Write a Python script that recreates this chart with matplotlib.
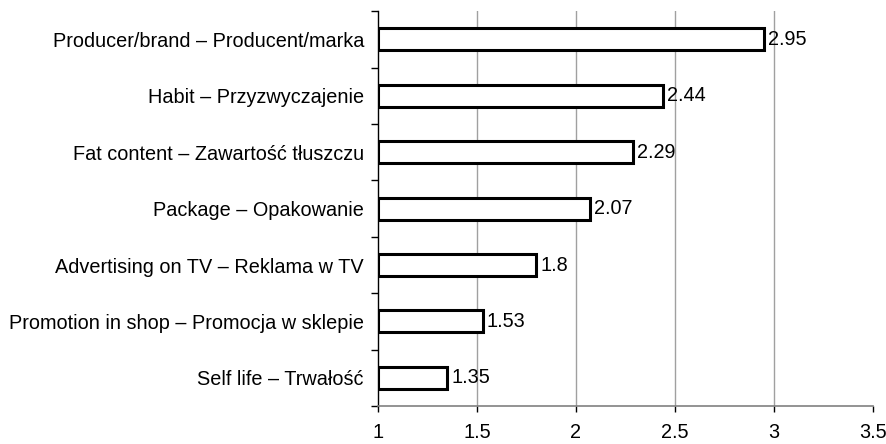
import numpy as np
import matplotlib.pyplot as plt

categories = [
    "Producer/brand – Producent/marka",
    "Habit – Przyzwyczajenie",
    "Fat content – Zawartość tłuszczu",
    "Package – Opakowanie",
    "Advertising on TV – Reklama w TV",
    "Promotion in shop – Promocja w sklepie",
    "Self life – Trwałość",
]
values = [2.95, 2.44, 2.29, 2.07, 1.8, 1.53, 1.35]
value_labels = ["2.95", "2.44", "2.29", "2.07", "1.8", "1.53", "1.35"]
x_ticks = [1, 1.5, 2, 2.5, 3, 3.5]
x_tick_labels = ["1", "1.5", "2", "2.5", "3", "3.5"]

plt.rcParams['font.family'] = ['Liberation Sans', 'DejaVu Sans']
fs = 14.3

fig = plt.figure(figsize=(8.87, 4.44), dpi=100)
ax = fig.add_axes([0.426, 0.0856, 0.558, 0.889])

n = len(categories)
y = np.arange(n)[::-1]
base = 1.0
ax.barh(y, np.array(values) - base, left=base, height=0.39,
        color='white', edgecolor='black', linewidth=2.2, zorder=3)

for yi, v, lab in zip(y, values, value_labels):
    ax.text(v + 0.02, yi, lab, va='center', ha='left', fontsize=fs, zorder=4)

ax.set_xlim(1, 3.5)
ax.set_ylim(-0.5, n - 0.5)
ax.set_xticks(x_ticks)
ax.set_xticklabels(x_tick_labels, fontsize=fs)
ax.set_yticks(y)
ax.set_yticklabels(categories, fontsize=fs)
ax.set_yticks(np.arange(n + 1) - 0.5, minor=True)

ax.tick_params(axis='y', which='major', length=0, pad=10)
ax.tick_params(axis='y', which='minor', length=5, width=1, color='black')
ax.tick_params(axis='x', which='major', length=4, width=1, color='black',
               direction='out', pad=8)

for gx in x_ticks[1:-1]:
    ax.axvline(gx, color='#a0a0a0', linewidth=1, zorder=1)

ax.spines['top'].set_visible(False)
ax.spines['right'].set_visible(False)
ax.spines['left'].set_color('black')
ax.spines['left'].set_linewidth(1)
ax.spines['bottom'].set_color('#808080')
ax.spines['bottom'].set_linewidth(1.2)

fig.savefig('out.png', dpi=100)
